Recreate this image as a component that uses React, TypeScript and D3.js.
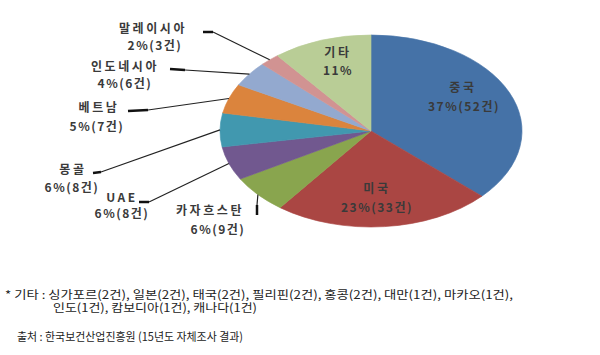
import React from "react";
import * as d3 from "d3";

// 국가별 건수 (시계 방향, 12시부터)
const countries = ["중국", "미국", "카자흐스탄", "UAE", "몽골", "베트남", "인도네시아", "말레이시아", "기타"];
const counts = [52, 33, 9, 8, 8, 7, 6, 3, 15];
const percentLabels = ["37%(52건)", "23%(33건)", "6%(9건)", "6%(8건)", "6%(8건)", "5%(7건)", "4%(6건)", "2%(3건)", "11%"];
const colors = ["#4572A7", "#AA4643", "#89A54E", "#71588F", "#4198AF", "#DB843D", "#93A9CF", "#D19392", "#B9CD96"];

const footLines = [
  "* 기타 : 싱가포르(2건), 일본(2건), 태국(2건), 필리핀(2건), 홍콩(2건), 대만(1건), 마카오(1건),",
  "인도(1건), 캄보디아(1건), 캐나다(1건)",
  "출처 : 한국보건산업진흥원 (15년도 자체조사 결과)",
];

// label layout: name centre, percent centre, leader start (null = inside)
const labelPos: { name: [number, number]; pct: [number, number]; lead: [number, number] | null; elbow?: [number, number] }[] = [
  { name: [463, 88], pct: [464, 107], lead: null },
  { name: [377, 189], pct: [377, 208], lead: null },
  { name: [210, 211], pct: [218, 230], lead: [257, 215], elbow: [257, 205] },
  { name: [122, 198], pct: [122, 214], lead: [139, 202], elbow: [149, 202] },
  { name: [73, 170], pct: [72, 188], lead: [93, 173], elbow: [101, 172] },
  { name: [99, 108], pct: [97, 127], lead: [128, 111], elbow: [148, 110] },
  { name: [125, 67], pct: [125, 84], lead: [170, 69], elbow: [185, 70] },
  { name: [153, 29], pct: [155, 46], lead: [203, 32], elbow: [213, 32] },
  { name: [338, 53], pct: [338, 71], lead: null },
];

const cx = 371;
const cy = 131;
const rx = 151;
const ry = 96;

export default function App() {
  const pie = d3.pie<number>().sort(null).value((d) => d);
  const arcs = pie(counts);
  const arc = d3.arc<d3.PieArcDatum<number>>().innerRadius(0).outerRadius(ry);
  const sx = rx / ry;

  // point on the (stretched) pie edge at a slice's mid angle
  const edge = (a: d3.PieArcDatum<number>) => {
    const m = (a.startAngle + a.endAngle) / 2;
    return [cx + rx * Math.sin(m), cy - ry * Math.cos(m)];
  };

  const labelFont = { fontFamily: "'Noto Sans CJK KR', sans-serif", fontWeight: 700, fontSize: 12, letterSpacing: 2.6, fill: "#3a3a3a" };
  const footFont = { fontFamily: "'Noto Sans CJK KR', sans-serif", fontSize: 11.5, fill: "#222" };

  return (
    <svg width={600} height={355} style={{ position: "absolute", left: 0, top: 0, background: "#fff" }}>
      <g transform={`translate(${cx},${cy}) scale(${sx},1)`}>
        {arcs.map((a, i) => (
          <path key={i} d={arc(a) || ""} fill={colors[i]} stroke={colors[i]} strokeWidth={0.5} />
        ))}
      </g>
      {arcs.map((a, i) => {
        const p = labelPos[i];
        if (!p.lead) return null;
        const e = edge(a);
        return (
          <g key={"l" + i}>
            <line x1={p.lead[0]} y1={p.lead[1]} x2={p.elbow![0]} y2={p.elbow![1]} stroke="#111" strokeWidth={2.5} />
            <line x1={p.elbow![0]} y1={p.elbow![1]} x2={e[0]} y2={e[1]} stroke="#222" strokeWidth={1.2} />
          </g>
        );
      })}
      {countries.map((c, i) => (
        <g key={"t" + i} style={labelFont as any}>
          <text x={labelPos[i].name[0]} y={labelPos[i].name[1]} dy="0.35em" textAnchor="middle">{c}</text>
          <text x={labelPos[i].pct[0]} y={labelPos[i].pct[1]} dy="0.35em" textAnchor="middle" style={{ letterSpacing: 1.5 }}>{percentLabels[i]}</text>
        </g>
      ))}
      <g style={footFont as any}>
        <text x={5} y={299} textLength={508} lengthAdjust="spacingAndGlyphs">{footLines[0]}</text>
        <text x={53} y={311.5} textLength={204} lengthAdjust="spacingAndGlyphs">{footLines[1]}</text>
        <text x={17} y={341} textLength={226} lengthAdjust="spacingAndGlyphs">{footLines[2]}</text>
      </g>
    </svg>
  );
}
